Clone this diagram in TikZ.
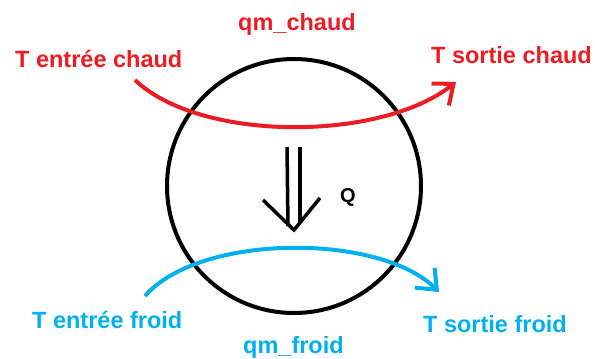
\documentclass[tikz,border=0pt]{standalone}
\usepackage{fontspec}
\setmainfont{Liberation Sans}
\usepackage{tikz}
\usetikzlibrary{arrows.meta, positioning, calc}

\definecolor{hotred}{RGB}{237,28,36}
\definecolor{coldblue}{RGB}{0,176,240}

\begin{document}
\begin{tikzpicture}[x=1pt, y=-1pt,
    hot_lbl/.style={text=hotred, anchor=base west, inner sep=0pt, font=\fontsize{23.5}{27}\selectfont\bfseries},
    cold_lbl/.style={hot_lbl, text=coldblue},
    flow_line/.style={line width=4pt, -{Straight Barb[length=17pt, width=28pt, line width=4pt]}},
    ]
    \useasboundingbox (0,0) rectangle (595,359);

    % Exchanger
    \node[circle, draw, line width=4pt, minimum size=254pt, inner sep=0pt] (hx) at (294,186) {};

    % Labels
    \node[hot_lbl] (hot_in) at (15,67) {T entrée chaud};
    \node[hot_lbl] (qm_hot) at (238,30) {qm\_chaud};
    \node[hot_lbl] (hot_out) at (431,63) {T sortie chaud};
    \node[cold_lbl] (cold_in) at (32,328) {T entrée froid};
    \node[cold_lbl] (qm_cold) at (243,353) {qm\_froid};
    \node[cold_lbl] (cold_out) at (423,332) {T sortie froid};
    \node[hot_lbl, text=black, font=\fontsize{20}{24}\selectfont\bfseries] (q) at (340,202) {Q};

    % Ends of the flows
    \coordinate (hot_start) at (135,80);
    \coordinate (hot_end) at (456,82);
    \coordinate (cold_start) at (145,296);
    \coordinate (cold_end) at (439,292);

    % Flows
    \draw[flow_line, hotred] (hot_start) .. controls (200,142) and (380,142) .. (hot_end);
    \draw[flow_line, coldblue] (cold_start) .. controls (200,233) and (380,233) .. (cold_end);

    % Heat flux
    \coordinate (q_top) at (293,147);
    \coordinate (q_tip) at (294,230);
    \draw[line width=3.5pt] ($(q_top)+(-6,0)$) -- ($(q_tip)+(-6,-4)$);
    \draw[line width=3.5pt] ($(q_top)+(7,0)$) -- ($(q_tip)+(6,-8)$);
    \draw[line width=3.5pt, line join=miter] ($(q_tip)+(-31,-30)$) -- (q_tip) -- ($(q_tip)+(26,-32)$);
\end{tikzpicture}
\end{document}
